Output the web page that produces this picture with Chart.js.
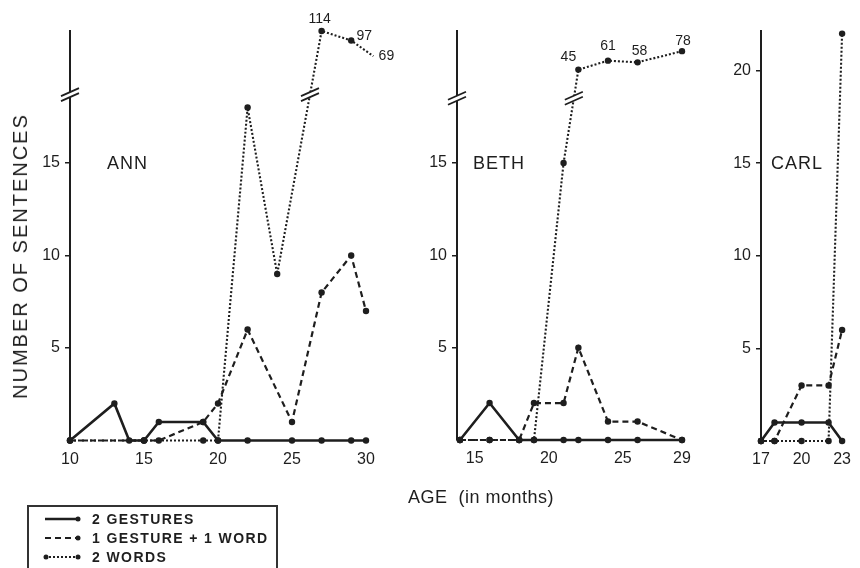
<!DOCTYPE html>
<html>
<head>
<meta charset="utf-8">
<script src="https://cdn.jsdelivr.net/npm/chart.js@4.4.1/dist/chart.umd.min.js"></script>
<style>
    html, body { margin: 0; padding: 0; background: #fff; }
    #wrap { position: relative; width: 860px; height: 568px; overflow: hidden; font-family: 'Liberation Sans', Arial, sans-serif; color: #1e1e1e; }
    #wrap canvas { position: absolute; left: 0; top: 0; }
    .txt { position: absolute; white-space: pre; line-height: 1; }
    .name { font-size: 18px; letter-spacing: 1px; }
    #ytitle { left: 20px; top: 256px; font-size: 20px; letter-spacing: 2px; transform: translate(-50%, -50%) rotate(-90deg); }
    #xtitle { left: 481px; top: 497px; font-size: 18px; letter-spacing: 0.5px; transform: translate(-50%, -50%); }
    #legend { position: absolute; left: 27px; top: 505px; width: 251px; height: 80px; border: 2px solid #333; padding-top: 2px; box-sizing: border-box; }
    #legend .row { height: 19px; display: flex; align-items: center; padding-left: 13px; }
    #legend svg { margin-right: 10px; }
    #legend span { font-weight: bold; font-size: 14px; letter-spacing: 1.4px; }
</style>
</head>
<body>
<div id="wrap">
    <canvas id="ann" width="860" height="568"></canvas>
    <canvas id="beth" width="860" height="568"></canvas>
    <canvas id="carl" width="860" height="568"></canvas>
    <div class="txt name" style="left:107px; top:154px;">ANN</div>
    <div class="txt name" style="left:473px; top:154px;">BETH</div>
    <div class="txt name" style="left:771px; top:154px;">CARL</div>
    <div class="txt" id="ytitle">NUMBER OF SENTENCES</div>
    <div class="txt" id="xtitle">AGE  (in months)</div>
    <div id="legend"></div>
</div>
<script>
// Datos (edad en meses, numero de oraciones)
const seriesNames = ['2 GESTURES', '1 GESTURE + 1 WORD', '2 WORDS'];

// ANN
const annGestAge = [10, 13, 14, 15, 16, 19, 20, 22, 25, 27, 29, 30];
const annGestN   = [0, 2, 0, 0, 1, 1, 0, 0, 0, 0, 0, 0];
const annMixAge  = [10, 15, 16, 19, 20, 22, 25, 27, 29, 30];
const annMixN    = [0, 0, 0, 1, 2, 6, 1, 8, 10, 7];
const annWordAge = [10, 15, 19, 20, 22, 24, 27, 29, 30.5];
const annWordN   = [0, 0, 0, 0, 18, 9, 114, 97, 69];
const annTicksX  = [10, 15, 20, 25, 30];

// BETH
const bethAge    = [14, 16, 18, 19, 21, 22, 24, 26, 29];
const bethGestN  = [0, 2, 0, 0, 0, 0, 0, 0, 0];
const bethMixN   = [0, 0, 0, 2, 2, 5, 1, 1, 0];
const bethWordN  = [0, 0, 0, 0, 15, 45, 61, 58, 78];
const bethTicksX = [15, 20, 25, 29];

// CARL
const carlAge    = [17, 18, 20, 22, 23];
const carlGestN  = [0, 1, 1, 1, 0];
const carlMixN   = [0, 0, 3, 3, 6];
const carlWordN  = [0, 0, 0, 0, 22];
const carlTicksX = [17, 20, 23];

const ticksY     = [5, 10, 15];
const ticksYCarl = [5, 10, 15, 20];

const ink = '#1e1e1e';
const fnt = "'Liberation Sans', Arial, sans-serif";
const lineStyles = [
    { width: 2.6, dash: [] },
    { width: 2.2, dash: [6, 4] },
    { width: 2.1, dash: [2, 2] }
];

// Eje y con corte: por encima de breakAt los valores se comprimen
class BrokenScale extends Chart.LinearScale {
    squash(v) {
        const b = this.options.breakAt, k = this.options.squeeze;
        return (b != null && v > b) ? b + (v - b) * k : v;
    }
    getPixelForValue(v) {
        return super.getPixelForValue(this.squash(v));
    }
    getValueForPixel(p) {
        const v = super.getValueForPixel(p);
        const b = this.options.breakAt, k = this.options.squeeze;
        return (b != null && v > b) ? b + (v - b) / k : v;
    }
}
BrokenScale.id = 'broken';
BrokenScale.defaults = Chart.LinearScale.defaults;
Chart.register(BrokenScale);

function drawBreak(ctx, x, y) {
    ctx.save();
    ctx.fillStyle = '#fff';
    ctx.beginPath();
    ctx.moveTo(x - 8, y + 6); ctx.lineTo(x + 8, y - 1);
    ctx.lineTo(x + 8, y - 6); ctx.lineTo(x - 8, y + 1);
    ctx.closePath();
    ctx.fill();
    ctx.strokeStyle = ink;
    ctx.lineWidth = 1.7;
    [-2.5, 2.5].forEach(off => {
        ctx.beginPath();
        ctx.moveTo(x - 9, y + off + 4);
        ctx.lineTo(x + 9, y + off - 4);
        ctx.stroke();
    });
    ctx.restore();
}

const breakPlugin = {
    id: 'breaks',
    afterDatasetsDraw(chart, args, opts) {
        if (!opts || opts.at == null) return;
        const { ctx, chartArea, scales } = chart;
        const yb = scales.y.getPixelForValue(opts.at);
        drawBreak(ctx, chartArea.left, yb);
        // corte sobre la linea de 2 palabras
        const meta = chart.getDatasetMeta(2);
        for (let i = 1; i < meta.data.length; i++) {
            const p0 = meta.data[i - 1], p1 = meta.data[i];
            if (p0.y > yb && p1.y < yb) {
                const t = (p0.y - yb) / (p0.y - p1.y);
                drawBreak(ctx, p0.x + t * (p1.x - p0.x), yb);
            }
        }
    }
};

const tagPlugin = {
    id: 'valueTags',
    afterDatasetsDraw(chart, args, opts) {
        if (!opts || !opts.offsets) return;
        const ctx = chart.ctx;
        const ds = chart.data.datasets[2];
        const meta = chart.getDatasetMeta(2);
        ctx.save();
        ctx.font = '14px ' + fnt;
        ctx.fillStyle = ink;
        ctx.textAlign = 'center';
        ctx.textBaseline = 'middle';
        let k = 0;
        ds.data.forEach((d, i) => {
            if (d.y <= opts.above) return;
            const [dx, dy] = opts.offsets[k++];
            ctx.fillText(String(d.y), meta.data[i].x + dx, meta.data[i].y + dy);
        });
        ctx.restore();
    }
};

function pts(ages, vals) {
    return ages.map((a, i) => ({ x: a, y: vals[i] }));
}

function makePanel(id, series, cfg) {
    return new Chart(document.getElementById(id), {
        type: 'line',
        data: {
            datasets: series.map((s, i) => ({
                label: seriesNames[i],
                data: pts(s[0], s[1]),
                borderColor: ink,
                backgroundColor: ink,
                borderWidth: lineStyles[i].width,
                borderDash: lineStyles[i].dash,
                pointRadius: 3.2,
                pointHoverRadius: 3.2,
                pointBorderWidth: 0,
                pointBackgroundColor: ink,
                tension: 0,
                fill: false,
                clip: false
            }))
        },
        options: {
            responsive: false,
            animation: false,
            devicePixelRatio: 1,
            events: [],
            layout: { padding: cfg.pad },
            plugins: {
                legend: { display: false },
                tooltip: { enabled: false },
                breaks: cfg.breaks || {},
                valueTags: cfg.tags || {}
            },
            scales: {
                x: {
                    type: 'linear',
                    min: cfg.xMin,
                    max: cfg.xMax,
                    afterBuildTicks: s => { s.ticks = cfg.xTicks.map(v => ({ value: v })); },
                    afterFit: s => { s.height = 30; },
                    border: { display: false },
                    grid: { display: false, drawTicks: false },
                    ticks: { padding: 9, color: ink, maxRotation: 0, font: { family: fnt, size: 16 } }
                },
                y: {
                    type: cfg.breakAt ? 'broken' : 'linear',
                    min: 0,
                    max: 22.14,
                    breakAt: cfg.breakAt,
                    squeeze: cfg.squeeze,
                    afterBuildTicks: s => { s.ticks = cfg.yTicks.map(v => ({ value: v })); },
                    afterFit: s => { s.width = 50; },
                    border: { display: true, color: ink, width: 2 },
                    grid: { drawOnChartArea: false, tickLength: 5, color: ink, lineWidth: 1.5 },
                    ticks: { padding: 5, color: ink, font: { family: fnt, size: 16 } }
                }
            }
        },
        plugins: [breakPlugin, tagPlugin]
    });
}

makePanel('ann', [[annGestAge, annGestN], [annMixAge, annMixN], [annWordAge, annWordN]], {
    pad: { left: 20, right: 494, top: 31, bottom: 97.5 },
    xMin: 10, xMax: 30, xTicks: annTicksX, yTicks: ticksY,
    breakAt: 19.27, squeeze: 0.0303,
    breaks: { at: 18.7 },
    tags: { above: 19.27, offsets: [[-2, -12], [13, -4], [13, 0]] }
});

makePanel('beth', [[bethAge, bethGestN], [bethAge, bethMixN], [bethAge, bethWordN]], {
    pad: { left: 407, right: 178, top: 31, bottom: 98 },
    xMin: 13.8, xMax: 29, xTicks: bethTicksX, yTicks: ticksY,
    breakAt: 19.27, squeeze: 0.0303,
    breaks: { at: 18.5 },
    tags: { above: 19.27, offsets: [[-10, -12], [0, -15], [2, -11], [1, -10]] }
});

makePanel('carl', [[carlAge, carlGestN], [carlAge, carlMixN], [carlAge, carlWordN]], {
    pad: { left: 711, right: 9, top: 31, bottom: 97 },
    xMin: 17, xMax: 23, xTicks: carlTicksX, yTicks: ticksYCarl
});

// Leyenda
const legend = document.getElementById('legend');
seriesNames.forEach((name, i) => {
    const st = lineStyles[i];
    const row = document.createElement('div');
    row.className = 'row';
    const startDot = i === 2 ? `<circle cx="4" cy="5" r="2.5" fill="${ink}"/>` : '';
    row.innerHTML = `<svg width="40" height="10"><line x1="3" y1="5" x2="36" y2="5" stroke="${ink}" stroke-width="${st.width}" stroke-dasharray="${st.dash.join(' ')}"/>${startDot}<circle cx="36" cy="5" r="2.5" fill="${ink}"/></svg><span>${name}</span>`;
    legend.appendChild(row);
});
</script>
</body>
</html>
